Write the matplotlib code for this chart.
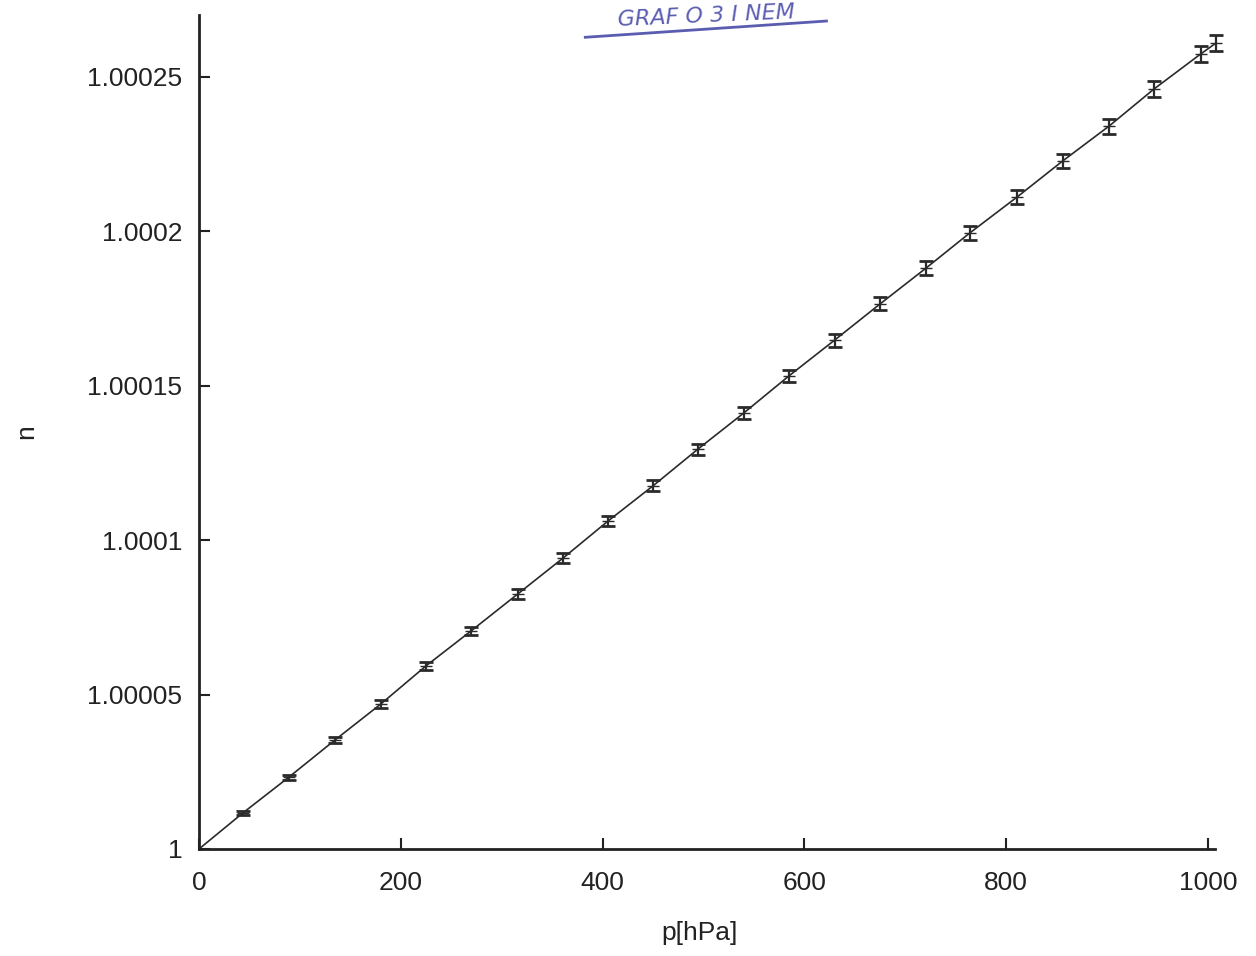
import matplotlib
matplotlib.use("Agg")
import matplotlib.pyplot as plt

# pressure [hPa] and refractive index n
p = [43.6, 89.2, 134.8, 180.4, 225.0, 269.6, 316.0, 360.8, 405.4, 450.0,
     494.5, 540.0, 584.7, 630.0, 675.0, 720.5, 764.0, 810.7, 856.0, 902.0,
     946.5, 993.0, 1008.0]
dn = [1.17, 2.33, 3.53, 4.70, 5.93, 7.06, 8.26, 9.42, 10.62, 11.76,
      12.95, 14.12, 15.32, 16.48, 17.65, 18.81, 19.95, 21.11, 22.28, 23.41,
      24.61, 25.75, 26.10]  # (n - 1) * 1e5
err = [0.06, 0.08, 0.10, 0.12, 0.13, 0.14, 0.15, 0.16, 0.17, 0.18,
       0.18, 0.19, 0.20, 0.21, 0.21, 0.22, 0.22, 0.23, 0.23, 0.24,
       0.25, 0.26, 0.27]  # (sigma n) * 1e5
n = [1 + v * 1e-5 for v in dn]
sig = [v * 1e-5 for v in err]

line_p = [0] + p
line_n = [1.0] + n

yticks = [1.0, 1.00005, 1.0001, 1.00015, 1.0002, 1.00025]
ylabels = ["1", "1.00005", "1.0001", "1.00015", "1.0002", "1.00025"]
xticks = [0, 200, 400, 600, 800, 1000]

plt.rcParams["font.family"] = ["Liberation Sans", "DejaVu Sans"]
fig = plt.figure(figsize=(12.56, 9.56), dpi=100)
ax = fig.add_axes([199 / 1256, 107 / 956, 1016 / 1256, 834 / 956])

ax.plot(line_p, line_n, color="#2a2a2a", lw=1.2, clip_on=False)
ax.errorbar(p, n, yerr=sig, fmt="_", ms=8, color="#2a2a2a", ecolor="#2a2a2a",
            elinewidth=1.6, capsize=5, capthick=2, clip_on=False)

ax.set_xlim(0, 1007)
ax.set_ylim(1.0, 1 + 834 / 3.088e6)
ax.set_xticks(xticks)
ax.set_xticklabels([str(t) for t in xticks])
ax.set_yticks(yticks)
ax.set_yticklabels(ylabels)
ax.tick_params(direction="in", length=8, width=1.5, labelsize=19,
               colors="#222222")
ax.tick_params(axis="x", pad=16)
ax.tick_params(axis="y", pad=12)
for s in ["top", "right"]:
    ax.spines[s].set_visible(False)
for s in ["left", "bottom"]:
    ax.spines[s].set_linewidth(2)
    ax.spines[s].set_color("#222222")

ax.set_xlabel("p[hPa]", fontsize=19, color="#222222")
ax.xaxis.set_label_coords((700 - 199) / 1016, -(921 - 849) / 834)
ax.set_ylabel("n", fontsize=19, color="#222222")
ax.yaxis.set_label_coords(-(199 - 38) / 1016, (849 - 432) / 834)

# handwritten note on the scan
fig.text(0.562, 0.983, "GRAF O 3 I NEM", color="#5a5cb0", fontsize=16,
         style="italic", ha="center", va="center", rotation=2.5,
         family="DejaVu Sans")
fig.lines.append(plt.Line2D([0.466, 0.658], [0.961, 0.978], color="#5a5cb0",
                            lw=2, transform=fig.transFigure))

fig.savefig("out.png", dpi=100)
